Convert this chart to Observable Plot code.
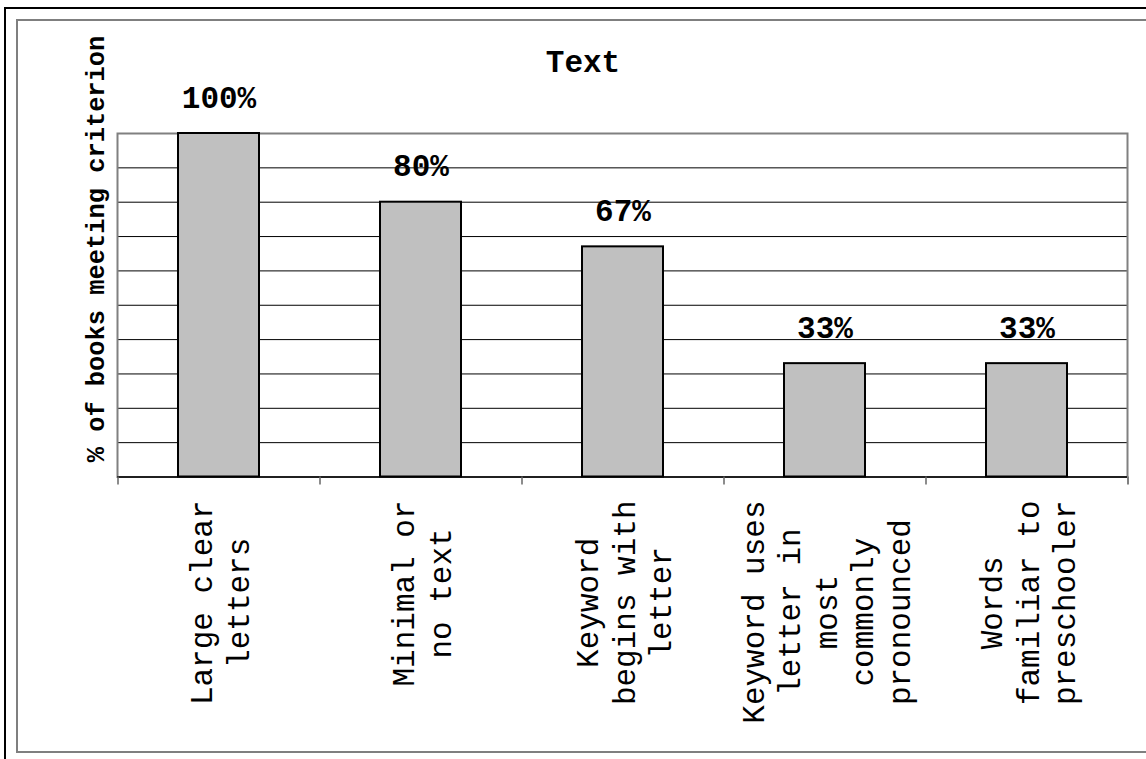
<!DOCTYPE html>
<html>
<head>
<meta charset="utf-8">
<script src="https://cdn.jsdelivr.net/npm/d3@7"></script>
<script src="https://cdn.jsdelivr.net/npm/@observablehq/plot@0.6"></script>
<style>
  html, body { margin: 0; padding: 0; background: #fff; overflow: hidden; }
  #wrap { position: relative; width: 1146px; height: 759px; overflow: hidden; background: #fff; }
  #chart { position: absolute; left: 0; top: 0; }
  .frame { position: absolute; box-sizing: border-box; pointer-events: none; }
  #outer { left: 4px; top: 7px; width: 1200px; height: 800px; border: 2px solid #000; }
  #inner { left: 16px; top: 19px; width: 1200px; height: 734px; border: 2px solid #7f7f7f; }
</style>
</head>
<body>
<div id="wrap">
  <div id="chart"></div>
  <div id="outer" class="frame"></div>
  <div id="inner" class="frame"></div>
</div>
<script>
// Criteria for the "Text" group of alphabet-book features
const categories = [
  "Large clear\nletters",
  "Minimal or\nno text",
  "Keyword\nbegins with\nletter",
  "Keyword uses\nletter in\nmost\ncommonly\npronounced",
  "Words\nfamiliar to\npreschooler"
];
const percents = [100, 80, 67, 33, 33];
const gridLevels = [10, 20, 30, 40, 50, 60, 70, 80, 90];
const chartTitle = "Text";
const yTitle = "% of books meeting criterion";

const data = categories.map((category, i) => ({category, percent: percents[i]}));

const W = 1146, H = 759;
const margin = {top: 133, right: 19, bottom: 282.5, left: 117};
const mono = "'Courier New', 'Nimbus Mono PS', 'Nimbus Mono L', 'FreeMono', 'Liberation Mono', monospace";
const labelSize = 31;
const step = (W - margin.left - margin.right) / categories.length;

// one rotated, centred label block per category, hung just below the axis
const longest = s => d3.max(s.split("\n"), l => l.length);
const categoryLabels = categories.map(c => Plot.text([c], {
  x: d => d,
  frameAnchor: "bottom",
  rotate: -90,
  textAnchor: "middle",
  lineAnchor: "middle",
  lineHeight: 1.18,
  dy: 23.5 + longest(c) * 0.6 * labelSize / 2,
  fontSize: labelSize,
  fontFamily: mono,
  fill: "#000"
}));

const chart = Plot.plot({
  width: W,
  height: H,
  marginTop: margin.top,
  marginRight: margin.right,
  marginBottom: margin.bottom,
  marginLeft: margin.left,
  style: {background: "transparent", fontFamily: mono, overflow: "visible"},
  x: {domain: categories, paddingInner: 0.6, paddingOuter: 0.3, axis: null, label: null},
  y: {domain: [0, 100], axis: null},
  marks: [
    Plot.ruleY(gridLevels, {stroke: "#000", strokeWidth: 1}),
    Plot.frame({stroke: "#808080", strokeWidth: 2}),
    Plot.barY(data, {x: "category", y: "percent", fill: "#c0c0c0", stroke: "#000", strokeWidth: 2}),
    Plot.ruleY([0], {stroke: "#000", strokeWidth: 1.5}),
    // tick marks sit on the boundaries between categories
    Plot.axisX({ticks: categories, tickSize: 8, tickFormat: () => "", label: null, dx: -step / 2, stroke: "#666", strokeWidth: 1.5}),
    Plot.axisX({ticks: categories.slice(-1), tickSize: 8, tickFormat: () => "", label: null, dx: step / 2, stroke: "#808080", strokeWidth: 2}),
    Plot.text(data, {
      x: "category", y: "percent", text: d => `${d.percent}%`,
      lineAnchor: "bottom", dy: -26,
      fontSize: 31, fontWeight: "bold", fontFamily: mono, fill: "#000"
    }),
    ...categoryLabels,
    Plot.text([yTitle], {
      frameAnchor: "top-left", rotate: -90, textAnchor: "middle", lineAnchor: "bottom",
      dx: -14, dy: 115.5,
      fontSize: 25.4, fontWeight: "bold", fontFamily: mono, fill: "#000"
    }),
    Plot.text([chartTitle], {
      frameAnchor: "top", lineAnchor: "bottom", dx: -39.5, dy: -62,
      fontSize: 31, fontWeight: "bold", fontFamily: mono, fill: "#000"
    })
  ]
});

document.getElementById("chart").appendChild(chart);
</script>
</body>
</html>
